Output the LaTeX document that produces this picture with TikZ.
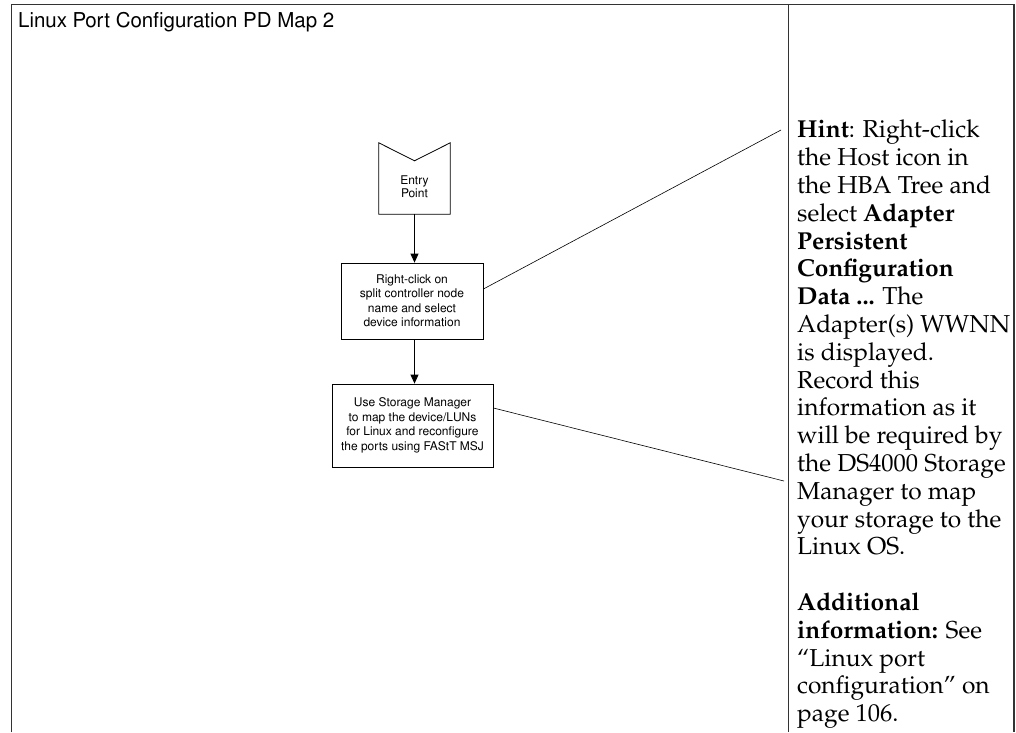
\documentclass[tikz,border=0pt]{standalone}
\usepackage[T1]{fontenc}
\usepackage{tikz}
\usetikzlibrary{arrows.meta,calc,positioning}

\newcommand{\sansfont}[2]{\fontfamily{phv}\fontsize{#1}{#2}\selectfont}
\newcommand{\hintfont}{\fontfamily{ppl}\fontsize{24.5}{27.8}\selectfont}

\begin{document}
\begin{tikzpicture}[x=1pt,y=-1pt,
		frame/.style={line width=1.2pt,draw=black!80},
		stepbox/.style={draw,line width=0.8pt,align=center,inner sep=0pt,font=\sansfont{12}{14.5}},
		flow/.style={-{Triangle[length=9pt,width=8pt]},line width=0.8pt},
		callout/.style={line width=0.6pt}]
		
		\useasboundingbox (0,0) rectangle (1016,732);
		
		% Frame and column rule
		\draw[frame] (11.5,732) -- (11.5,4.5) -- (1014,4.5) -- (1014,732);
		\draw[frame] (788.5,4.5) -- (788.5,732);
		
		% Title
		\node[anchor=base west,inner sep=0pt,font=\sansfont{20.5}{24}] (title) at (18,27) {Linux Port Configuration PD Map 2};
		
		% Entry point
		\node[minimum width=71pt,minimum height=71pt,inner sep=0pt] (entry) at (414.5,178.5) {};
		\draw[line width=0.8pt] (entry.north west) -- ($(entry.north)+(0,18)$) -- (entry.north east) -- (entry.south east) -- (entry.south west) -- cycle;
		\node[align=center,font=\sansfont{12}{13}] (entrytext) at (414.5,187) {Entry\\Point};
		
		% Steps
		\node[stepbox,minimum width=142pt,minimum height=76pt] (click) at (412,301) {Right-click on\\split controller node\\name and select\\device information};
		\node[stepbox,minimum width=161pt,minimum height=83pt] (map) at (412.5,425.5) {Use Storage Manager\\to map the device/LUNs\\for Linux and reconfigure\\the ports using FAStT MSJ};
		
		\draw[flow] (entry.south) -- (entry.south |- click.north);
		\draw[flow] (entry.south |- click.south) -- (entry.south |- map.north);
		
		% Callouts to the hint
		\coordinate (hinttop) at (781,130);
		\coordinate (hintbot) at (784,481);
		\draw[callout] ($(click.east)+(0,-12)$) -- (hinttop);
		\draw[callout] ($(map.east)+(0,-17.5)$) -- (hintbot);
		
		% Hint text
		\node[anchor=north west,inner sep=0pt,align=left,font=\hintfont] (hint) at (797,120) {\textbf{Hint}: Right-click\\
			the Host icon in\\
			the HBA Tree and\\
			select \textbf{Adapter}\\
			\textbf{Persistent}\\
			\textbf{Configuration}\\
			\textbf{Data ...} The\\
			Adapter(s) WWNN\\
			is displayed.\\
			Record this\\
			information as it\\
			will be required by\\
			the DS4000 Storage\\
			Manager to map\\
			your storage to the\\
			Linux OS.\\[27.8pt]
			\textbf{Additional}\\
			\textbf{information:} See\\
			``Linux port\\
			configuration'' on\\
			page 106.};
	\end{tikzpicture}
\end{document}
